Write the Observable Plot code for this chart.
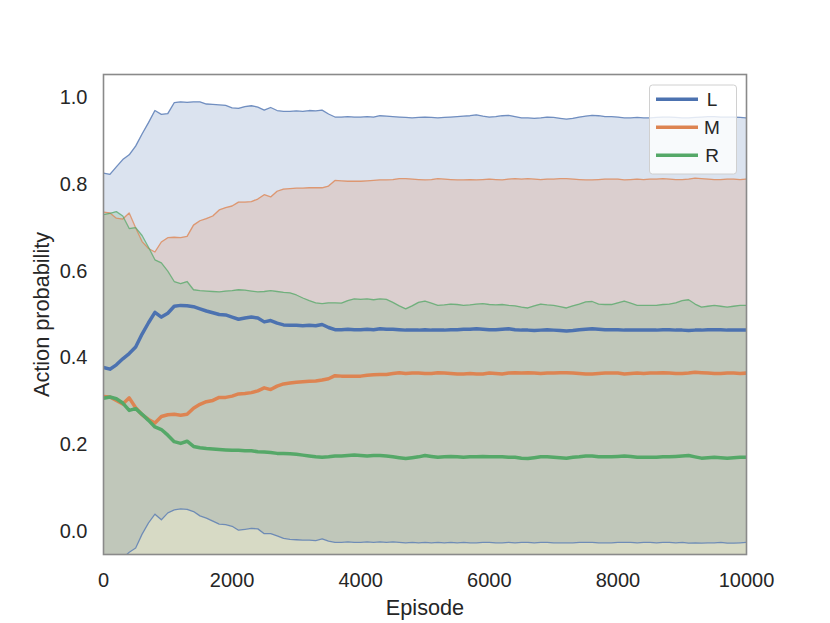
<!DOCTYPE html>
<html>
<head>
<meta charset="utf-8">
<script src="https://cdn.jsdelivr.net/npm/d3@7"></script>
<script src="https://cdn.jsdelivr.net/npm/@observablehq/plot@0.6"></script>
<style>
  html, body { margin: 0; padding: 0; background: #ffffff; }
  #chart { position: relative; width: 830px; height: 623px; }
</style>
</head>
<body>
<div id="chart"></div>
<script>
const seriesNames = ["L", "M", "R"];
const seriesColors = ["#4c72b0", "#dd8452", "#55a868"];
const episodes = d3.range(0, 10001, 100);
const xTicks = [0, 2000, 4000, 6000, 8000, 10000];
const yTicks = [0, 0.2, 0.4, 0.6, 0.8, 1.0];
const xLabel = "Episode";
const yLabel = "Action probability";

const L_mean = [
  0.378, 0.374, 0.384, 0.398, 0.410, 0.425, 0.455, 0.481, 0.505, 0.494,
  0.503, 0.519, 0.521, 0.520, 0.518, 0.513, 0.508, 0.504, 0.500, 0.499,
  0.494, 0.489, 0.492, 0.494, 0.492, 0.483, 0.486, 0.480, 0.476, 0.475,
  0.475, 0.474, 0.475, 0.474, 0.477, 0.470, 0.465, 0.465, 0.466, 0.465,
  0.465, 0.466, 0.465, 0.467, 0.466, 0.466,
  0.465, 0.464, 0.464, 0.464, 0.465, 0.464, 0.464, 0.464, 0.465, 0.465,
  0.466, 0.466, 0.467, 0.466, 0.465, 0.465, 0.466, 0.467, 0.465, 0.464,
  0.464, 0.463, 0.464, 0.465, 0.464, 0.463, 0.462, 0.463, 0.465, 0.466,
  0.467, 0.466, 0.465, 0.465, 0.465, 0.464, 0.464, 0.464, 0.464, 0.464,
  0.464, 0.465, 0.465, 0.464, 0.464, 0.463, 0.464, 0.464, 0.465, 0.465,
  0.465, 0.464, 0.464, 0.464, 0.464
];
const L_upper = [
  0.826, 0.823, 0.840, 0.857, 0.868, 0.888, 0.916, 0.942, 0.970, 0.961,
  0.963, 0.988, 0.990, 0.989, 0.990, 0.990, 0.985, 0.984, 0.983, 0.982,
  0.976, 0.975, 0.979, 0.981, 0.978, 0.971, 0.977, 0.970, 0.968, 0.968,
  0.969, 0.968, 0.970, 0.969, 0.971, 0.962, 0.955, 0.955, 0.956, 0.955,
  0.955, 0.956, 0.955, 0.958, 0.957, 0.956,
  0.955, 0.954, 0.953, 0.954, 0.955, 0.954, 0.953, 0.954, 0.955, 0.956,
  0.957, 0.958, 0.960, 0.957, 0.955, 0.956, 0.958, 0.959, 0.956, 0.953,
  0.953, 0.952, 0.953, 0.955, 0.954, 0.952, 0.950, 0.952, 0.955, 0.957,
  0.959, 0.958, 0.956, 0.956, 0.955, 0.953, 0.953, 0.954, 0.953, 0.953,
  0.954, 0.955, 0.955, 0.954, 0.953, 0.953, 0.954, 0.955, 0.956, 0.956,
  0.955, 0.955, 0.955, 0.954, 0.953
];
const M_mean = [
  0.311, 0.310, 0.302, 0.294, 0.308, 0.285, 0.269, 0.258, 0.250, 0.265,
  0.269, 0.270, 0.268, 0.270, 0.284, 0.293, 0.299, 0.302, 0.309, 0.309,
  0.312, 0.317, 0.318, 0.320, 0.324, 0.331, 0.327, 0.335, 0.340, 0.342,
  0.344, 0.345, 0.346, 0.347, 0.349, 0.352, 0.359, 0.358, 0.358, 0.358,
  0.358, 0.360, 0.361, 0.362, 0.362, 0.364, 0.366, 0.364,
  0.365, 0.365, 0.364, 0.364, 0.366, 0.365, 0.364, 0.363, 0.363, 0.364,
  0.363, 0.363, 0.365, 0.364, 0.363, 0.365, 0.366, 0.365, 0.366, 0.365,
  0.364, 0.365, 0.365, 0.366, 0.366, 0.365, 0.364, 0.363, 0.363, 0.364,
  0.365, 0.365, 0.365, 0.363, 0.364, 0.365, 0.364, 0.365, 0.365, 0.366,
  0.365, 0.364, 0.364, 0.365, 0.367, 0.366, 0.365, 0.364, 0.364, 0.365,
  0.365, 0.364, 0.365
];
const M_upper = [
  0.736, 0.734, 0.722, 0.720, 0.734, 0.700, 0.668, 0.652, 0.644, 0.667,
  0.677, 0.678, 0.677, 0.680, 0.706, 0.716, 0.721, 0.727, 0.741, 0.746,
  0.750, 0.759, 0.759, 0.760, 0.766, 0.776, 0.771, 0.784, 0.789, 0.790,
  0.791, 0.791, 0.792, 0.792, 0.792, 0.796, 0.809, 0.808, 0.807, 0.807,
  0.807, 0.808, 0.809, 0.810, 0.810, 0.811, 0.813, 0.813,
  0.812, 0.811, 0.810, 0.811, 0.813, 0.812, 0.811, 0.810, 0.810, 0.811,
  0.810, 0.811, 0.812, 0.811, 0.810, 0.812, 0.813, 0.812, 0.813, 0.812,
  0.811, 0.812, 0.812, 0.813, 0.813, 0.812, 0.811, 0.810, 0.810, 0.811,
  0.812, 0.812, 0.812, 0.810, 0.811, 0.812, 0.811, 0.812, 0.812, 0.813,
  0.812, 0.811, 0.811, 0.812, 0.814, 0.813, 0.812, 0.811, 0.811, 0.812,
  0.812, 0.811, 0.812
];
const R_mean = [
  0.307, 0.310, 0.306, 0.296, 0.279, 0.283, 0.270, 0.256, 0.241, 0.235,
  0.222, 0.207, 0.203, 0.208, 0.196, 0.193, 0.191, 0.190, 0.189, 0.188,
  0.187, 0.187, 0.186, 0.186, 0.184, 0.183, 0.182, 0.180, 0.180, 0.179,
  0.178, 0.176, 0.174, 0.172, 0.171, 0.172, 0.174, 0.174, 0.175, 0.176,
  0.175, 0.174, 0.175, 0.175, 0.174, 0.172, 0.170, 0.168, 0.170, 0.172,
  0.175, 0.173, 0.171,
  0.172, 0.173, 0.172, 0.171, 0.172, 0.172, 0.173, 0.172, 0.172, 0.172,
  0.171, 0.171, 0.169, 0.168, 0.170, 0.172, 0.172, 0.171, 0.170, 0.169,
  0.171, 0.172, 0.174, 0.174, 0.172, 0.172, 0.172, 0.173, 0.174, 0.173,
  0.171, 0.171, 0.171, 0.171, 0.172, 0.172, 0.173, 0.174, 0.175, 0.172,
  0.169, 0.170, 0.171, 0.170, 0.169, 0.170, 0.171, 0.171
];
const R_upper = [
  0.730, 0.733, 0.737, 0.727, 0.698, 0.700, 0.682, 0.655, 0.626, 0.619,
  0.600, 0.576, 0.571, 0.576, 0.557, 0.555, 0.554, 0.553, 0.552, 0.554,
  0.555, 0.557, 0.556, 0.554, 0.552, 0.553, 0.555, 0.553, 0.551, 0.550,
  0.545, 0.538, 0.532, 0.527, 0.525, 0.527, 0.527, 0.526, 0.532, 0.536,
  0.535, 0.536, 0.534, 0.536, 0.535, 0.528, 0.520, 0.513, 0.520, 0.528,
  0.531, 0.526, 0.521,
  0.522, 0.524, 0.523, 0.521, 0.522, 0.524, 0.525, 0.523, 0.522, 0.523,
  0.521, 0.520, 0.517, 0.515, 0.520, 0.524, 0.522, 0.521, 0.518, 0.515,
  0.520, 0.524, 0.529, 0.530, 0.524, 0.523, 0.523, 0.527, 0.531, 0.526,
  0.521, 0.521, 0.521, 0.521, 0.523, 0.524, 0.527, 0.532, 0.534, 0.524,
  0.517, 0.519, 0.521, 0.519, 0.517, 0.519, 0.521, 0.521
];

// ---- Build long table (band = mean ± spread, symmetric) ----
const means = [L_mean, M_mean, R_mean];
const uppers = [L_upper, M_upper, R_upper];
const rows = [];
seriesNames.forEach((s, k) => {
  episodes.forEach((ep, i) => {
    const m = means[k][i], u = uppers[k][i];
    rows.push({series: s, ep, mean: m, upper: u, lower: 2 * m - u});
  });
});

const color = {domain: seriesNames, range: seriesColors};
const textColor = "#262626";
const fontFamily = "'Liberation Sans', Arial, sans-serif";

const chart = Plot.plot({
  width: 830,
  height: 623,
  marginLeft: 103,
  marginRight: 84,
  marginTop: 74,
  marginBottom: 69,
  style: {fontFamily, fontSize: "20px", color: textColor, background: "#ffffff"},
  x: {domain: [0, 10000]},
  y: {domain: [-0.053, 1.053]},
  color,
  marks: [
    Plot.areaY(rows, {x: "ep", y1: "lower", y2: "upper", z: "series", fill: "series", fillOpacity: 0.2, clip: true}),
    Plot.lineY(rows, {x: "ep", y: "upper", z: "series", stroke: "series", strokeWidth: 1.3, strokeOpacity: 0.75, clip: true}),
    Plot.lineY(rows, {x: "ep", y: "lower", z: "series", stroke: "series", strokeWidth: 1.3, strokeOpacity: 0.75, clip: true}),
    Plot.lineY(rows, {x: "ep", y: "mean", z: "series", stroke: "series", strokeWidth: 3.5, clip: true}),
    Plot.frame({stroke: "#8a8a8a", strokeWidth: 1.6}),
    Plot.axisX({ticks: xTicks, tickSize: 0, tickPadding: 18, tickFormat: d => String(d), label: null, fill: textColor}),
    Plot.axisY({ticks: yTicks, tickSize: 0, tickPadding: 16, tickFormat: d3.format(".1f"), label: null, fill: textColor}),
    Plot.text([xLabel], {text: d => d, frameAnchor: "bottom", dy: 60, lineAnchor: "bottom", fontSize: 21.7, fill: textColor}),
    Plot.text([yLabel], {text: d => d, frameAnchor: "left", dx: -70, rotate: -90, lineAnchor: "top", textAnchor: "middle", fontSize: 21.7, fill: textColor})
  ]
});
document.getElementById("chart").appendChild(chart);

// ---- Legend inside the axes (top-right) ----
const svg = d3.select(chart);
const lg = svg.append("g").attr("class", "legend");
lg.append("rect")
  .attr("x", 649.5).attr("y", 85).attr("width", 87).attr("height", 89)
  .attr("rx", 3).attr("ry", 3)
  .attr("fill", "#ffffff").attr("fill-opacity", 0.8)
  .attr("stroke", "#d0d0d0").attr("stroke-width", 1);
seriesNames.forEach((s, k) => {
  const y = 99.3 + k * 28;
  lg.append("line")
    .attr("x1", 656).attr("x2", 698).attr("y1", y).attr("y2", y)
    .attr("stroke", seriesColors[k]).attr("stroke-width", 3.5);
  lg.append("text")
    .attr("x", 712).attr("y", y + 7)
    .style("fill", textColor)
    .style("font-family", fontFamily)
    .style("font-size", "19px")
    .text(s);
});
</script>
</body>
</html>
